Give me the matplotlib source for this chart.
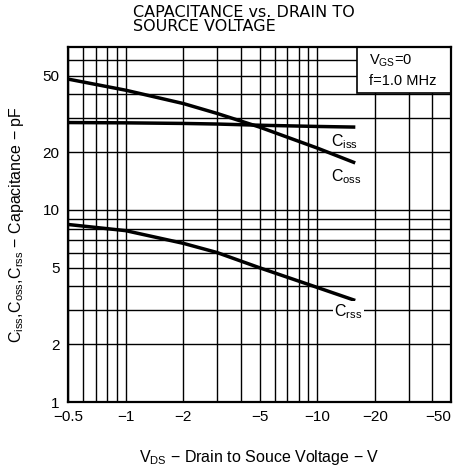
"""Curvas de capacitância x tensão dreno-fonte (estilo folha de dados)."""

import numpy as np
import matplotlib
matplotlib.use("Agg")
import matplotlib.pyplot as plt
from matplotlib.patches import Rectangle

plt.rcParams["font.family"] = ["Liberation Sans", "DejaVu Sans"]
plt.rcParams["mathtext.fontset"] = "custom"
plt.rcParams["mathtext.rm"] = "Liberation Sans"
plt.rcParams["mathtext.it"] = "Liberation Sans:italic"

# Dados (V_DS em volts, capacitâncias em pF)
vds = [-0.5, -1, -2, -3, -5, -10, -15.5]
ciss = [28.5, 28.4, 28.2, 28.0, 27.6, 27.2, 27.0]
coss = [48, 42, 35.8, 31.8, 27, 21, 17.7]
crss = [8.4, 7.8, 6.7, 6.0, 5.0, 3.95, 3.4]

# Grade da folha de dados
x_grid = [0.5, 0.6, 0.7, 0.8, 0.9, 1, 2, 3, 4, 5, 6, 7, 8, 9, 10, 20, 30, 40, 50]
y_grid = [1, 2, 3, 4, 5, 6, 7, 8, 9, 10, 20, 30, 40, 50, 60]
x_ticks = [0.5, 1, 2, 5, 10, 20, 50]
x_labels = ["\u22120.5", "\u22121", "\u22122", "\u22125", "\u221210", "\u221220", "\u221250"]
y_ticks = [1, 2, 5, 10, 20, 50]
y_labels = ["1", "2", "5", "10", "20", "50"]


def plotar():
    fig = plt.figure(figsize=(4.6, 4.69), dpi=100)
    ax = fig.add_axes([68 / 460, 1 - 402 / 469, 383 / 460, 355 / 469])
    ax.set_xscale("log")
    ax.set_yscale("log")
    ax.set_xlim(0.5, 50)
    ax.set_ylim(1, 70.5)

    # grade manual (linhas pretas finas)
    for gx in x_grid:
        ax.axvline(gx, color="black", lw=1.0, zorder=1)
    for gy in y_grid:
        ax.axhline(gy, color="black", lw=1.0, zorder=1)

    x = np.abs(vds)
    ax.plot(x, ciss, color="black", lw=2.5, zorder=3)
    ax.plot(x, coss, color="black", lw=2.5, zorder=3)
    ax.plot(x, crss, color="black", lw=2.5, zorder=3)

    # rótulos das curvas (abaixo da ponta de cada curva)
    ax.text(11.8, 22.6, r"C$_\mathrm{iss}$", fontsize=11.5, ha="left", va="center", zorder=4)
    ax.text(11.8, 14.9, r"C$_\mathrm{oss}$", fontsize=11.5, ha="left", va="center", zorder=4)
    ax.text(12.3, 2.94, r"C$_\mathrm{rss}$", fontsize=11.5, ha="left", va="center", zorder=4,
            bbox=dict(facecolor="white", edgecolor="none", pad=1.0))

    # caixa de condições de teste, encostada no canto superior direito
    ax.add_patch(Rectangle((0.755, 0.870), 0.245, 0.130, transform=ax.transAxes,
                           facecolor="white", edgecolor="black", lw=1.2, zorder=5))
    ax.text(0.785, 0.962, "V$_\\mathrm{GS}$=0", transform=ax.transAxes,
            fontsize=10.5, ha="left", va="center", zorder=6)
    ax.text(0.785, 0.905, "f=1.0 MHz", transform=ax.transAxes,
            fontsize=10.5, ha="left", va="center", zorder=6)

    ax.set_xticks(x_ticks)
    ax.set_xticklabels(x_labels)
    ax.set_yticks(y_ticks)
    ax.set_yticklabels(y_labels)
    ax.minorticks_off()
    ax.tick_params(length=0, labelsize=11, pad=6)
    ax.get_xticklabels()[-1].set_horizontalalignment("right")
    for s in ax.spines.values():
        s.set_linewidth(1.6)
        s.set_zorder(7)

    ax.set_xlabel("V$_\\mathrm{DS}$ \u2212 Drain to Souce Voltage \u2212 V", fontsize=11.5, labelpad=17)
    ax.set_ylabel("C$_\\mathrm{iss}$,C$_\\mathrm{oss}$,C$_\\mathrm{rss}$ \u2212 Capacitance \u2212 pF",
                  fontsize=11.5, labelpad=12)

    fig.text(133 / 460, 1 - 5 / 469, "CAPACITANCE vs. DRAIN TO\nSOURCE VOLTAGE",
             fontsize=11.5, family="DejaVu Sans", ha="left", va="top", linespacing=0.95)
    return fig


fig = plotar()
fig.savefig("out.png", dpi=100)
